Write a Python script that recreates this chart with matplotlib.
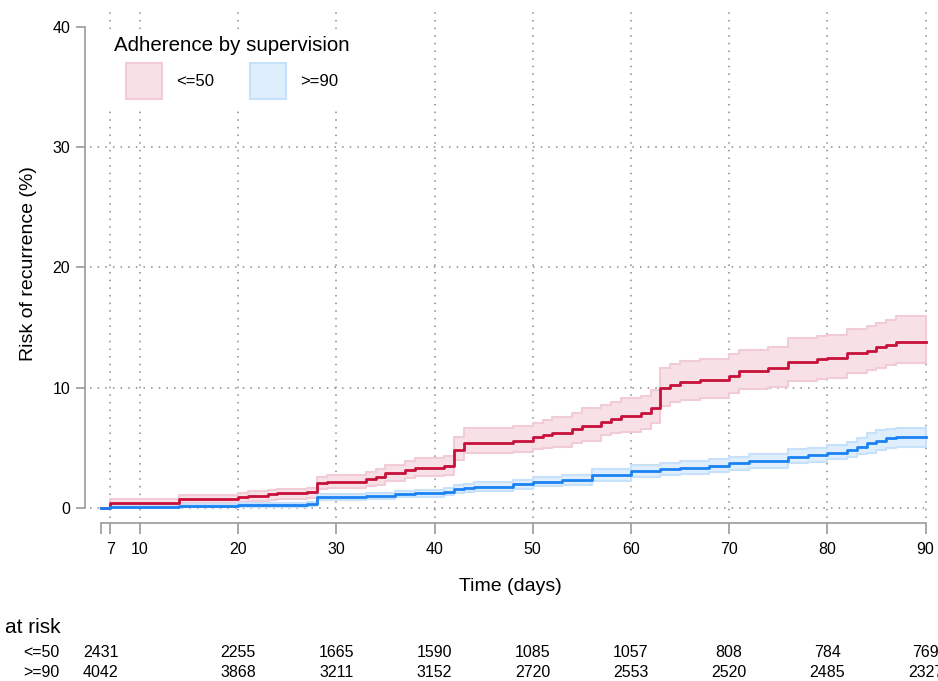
import matplotlib
matplotlib.use("Agg")
import matplotlib.pyplot as plt
from matplotlib.patches import Patch
from matplotlib.transforms import blended_transform_factory

plt.rcParams['font.family'] = ['Liberation Sans', 'DejaVu Sans']

# risk of recurrence (%) for the <=50 group, step times in days
t_low = [6, 7, 14, 20, 21, 23, 24, 27, 28, 29, 33, 34, 35, 37, 38, 41, 42, 43, 48, 50,
         51, 52, 54, 55, 57, 58, 59, 61, 62, 63, 64, 65, 67, 70, 71, 74, 76, 79, 80, 82,
         84, 85, 86, 87, 90]
est_low = [0, 0.44, 0.72, 0.89, 1.02, 1.14, 1.22, 1.32, 2.05, 2.19, 2.38, 2.55, 2.88, 3.16, 3.32, 3.5, 4.82, 5.43, 5.6, 5.87,
           6.04, 6.21, 6.54, 6.82, 7.15, 7.42, 7.67, 7.87, 8.29, 9.95, 10.22, 10.45, 10.64, 10.97, 11.39, 11.61, 12.16, 12.36, 12.44, 12.91,
           13.08, 13.36, 13.55, 13.8, 13.8]
lo_low = [0, 0.2, 0.38, 0.5, 0.6, 0.7, 0.75, 0.82, 1.55, 1.65, 1.8, 1.95, 2.25, 2.5, 2.62, 2.78, 3.97, 4.55, 4.68, 4.88,
          5.0, 5.1, 5.38, 5.6, 6.07, 6.2, 6.34, 6.54, 7.04, 8.48, 8.84, 8.98, 9.17, 9.53, 9.87, 10.09, 10.56, 10.7, 10.78, 11.25,
          11.47, 11.67, 11.89, 12.08, 12.08]
hi_low = [0, 0.75, 1.08, 1.27, 1.4, 1.5, 1.58, 1.7, 2.6, 2.75, 3.0, 3.2, 3.6, 3.9, 4.15, 4.35, 5.93, 6.62, 6.82, 7.04,
          7.3, 7.59, 7.87, 8.29, 8.56, 8.8, 9.12, 9.31, 9.81, 11.61, 11.94, 12.2, 12.39, 12.78, 13.13, 13.41, 14.16, 14.3, 14.38, 14.85,
          15.13, 15.35, 15.63, 15.96, 15.96]

# >=90 group
t_high = [6, 7, 14, 20, 27, 28, 30, 33, 36, 38, 41, 42, 43, 44, 48, 50, 53, 56, 60, 63,
          65, 68, 70, 72, 76, 78, 80, 82, 83, 84, 85, 86, 87, 90]
est_high = [0, 0.11, 0.2, 0.25, 0.3, 0.89, 0.94, 1.0, 1.15, 1.22, 1.36, 1.55, 1.63, 1.77, 1.97, 2.19, 2.33, 2.74, 3.05, 3.21,
            3.35, 3.52, 3.71, 3.91, 4.27, 4.41, 4.6, 4.82, 5.1, 5.43, 5.6, 5.79, 5.87, 5.87]
lo_high = [0, 0.02, 0.08, 0.12, 0.15, 0.65, 0.7, 0.75, 0.88, 0.93, 1.05, 1.22, 1.3, 1.42, 1.6, 1.8, 1.93, 2.28, 2.58, 2.73,
           2.82, 3.0, 3.17, 3.35, 3.71, 3.83, 4.05, 4.22, 4.45, 4.6, 4.8, 5.0, 5.1, 5.1]
hi_high = [0, 0.25, 0.35, 0.42, 0.48, 1.15, 1.2, 1.28, 1.45, 1.52, 1.68, 1.9, 2.0, 2.15, 2.36, 2.6, 2.76, 3.2, 3.55, 3.72,
           3.88, 4.07, 4.28, 4.5, 4.88, 5.02, 5.24, 5.5, 5.8, 6.26, 6.45, 6.6, 6.68, 6.68]

xticks = [7, 10, 20, 30, 40, 50, 60, 70, 80, 90]
yticks = [0, 10, 20, 30, 40]

# numbers at risk
risk_days = [6, 20, 30, 40, 50, 60, 70, 80, 90]
risk_low = [2431, 2255, 1665, 1590, 1085, 1057, 808, 784, 769]
risk_high = [4042, 3868, 3211, 3152, 2720, 2553, 2520, 2485, 2327]

red = '#C8103A'
red_fill = '#F7E1E7'
red_edge = '#F1CBD5'
blue = '#1A82F2'
blue_fill = '#DFEEFD'
blue_edge = '#C8E1FB'
grey = '#9A9A9A'

fig = plt.figure(figsize=(9.38, 6.81), dpi=100)
ax = fig.add_axes([0.0959, 0.2394, 0.8955, 0.7459])

ax.fill_between(t_low, lo_low, hi_low, step='post', facecolor=red_fill, edgecolor=red_edge, lw=1.5, zorder=2)
ax.fill_between(t_high, lo_high, hi_high, step='post', facecolor=blue_fill, edgecolor=blue_edge, lw=1.5, zorder=2)
ax.step(t_low, est_low, where='post', color=red, lw=2, zorder=3)
ax.step(t_high, est_high, where='post', color=blue, lw=2, zorder=3)

ax.set_xlim(4.91, 90.45)
ax.set_ylim(-0.83, 41.4)

# dotted grid
for x in xticks:
    ax.axvline(x, color='#8A8A8A', lw=1.1, ls=(0, (1, 4)), zorder=1)
for y in yticks[:-1]:
    ax.axhline(y, color='#8A8A8A', lw=1.1, ls=(0, (1, 4)), zorder=1)

ax.set_xticks([6] + xticks)
ax.set_xticklabels([''] + [str(v) for v in xticks])
ax.set_yticks(yticks)

for s in ['top', 'right']:
    ax.spines[s].set_visible(False)
ax.spines['left'].set_position(('outward', 3.6))
ax.spines['bottom'].set_position(('outward', 3.6))
ax.spines['left'].set_bounds(0, 40)
ax.spines['bottom'].set_bounds(6, 90)
for s in ['left', 'bottom']:
    ax.spines[s].set_color(grey)
    ax.spines[s].set_linewidth(1.2)
ax.tick_params(axis='y', length=6.5, width=1.2, color=grey, labelsize=11.5, pad=4)
ax.tick_params(axis='x', length=8, width=1.2, color=grey, labelsize=11.5, pad=5.5)

ax.set_xlabel('Time (days)', fontsize=14, labelpad=15)
ax.set_ylabel('Risk of recurrence (%)', fontsize=14, labelpad=11)

handles = [Patch(facecolor=red_fill, edgecolor=red_edge, lw=1.5),
           Patch(facecolor=blue_fill, edgecolor=blue_edge, lw=1.5)]
leg = ax.legend(handles, ['<=50', '>=90'], title='Adherence by supervision', ncol=2,
                loc='upper left', bbox_to_anchor=(0.021, 0.962), fontsize=12, title_fontsize=14.8,
                frameon=True, framealpha=1, edgecolor='none', facecolor='white',
                handlelength=2.16, handleheight=2.95, handletextpad=0.84, columnspacing=2.15,
                borderaxespad=0, fancybox=False)

# at-risk table
tr = blended_transform_factory(ax.transData, fig.transFigure)
fig.text(5 / 938, 1 - 633 / 681, 'at risk', fontsize=15, ha='left', va='baseline')
fig.text(59 / 938, 1 - 657 / 681, '<=50', fontsize=11.5, ha='right', va='baseline')
fig.text(59 / 938, 1 - 677 / 681, '>=90', fontsize=11.5, ha='right', va='baseline')
for d, a, b in zip(risk_days, risk_low, risk_high):
    ax.text(d, 1 - 657 / 681, str(a), transform=tr, fontsize=11.5, ha='center', va='baseline', clip_on=False)
    ax.text(d, 1 - 677 / 681, str(b), transform=tr, fontsize=11.5, ha='center', va='baseline', clip_on=False)

fig.savefig('out.png', dpi=100)
